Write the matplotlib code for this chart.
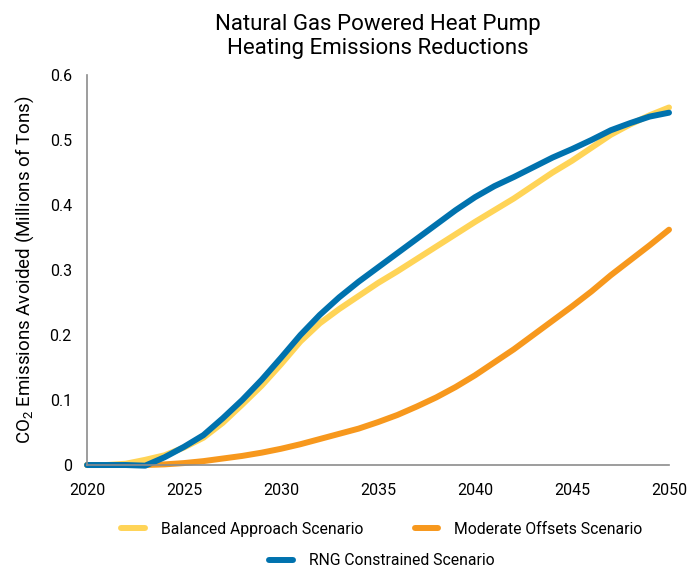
import numpy as np
import matplotlib.pyplot as plt
from matplotlib.lines import Line2D

plt.rcParams['font.family'] = ['Roboto', 'DejaVu Sans']
plt.rcParams['mathtext.default'] = 'regular'

# Data
years = list(range(2020, 2051))
balanced = [0, 0, 0.002, 0.008, 0.015, 0.027, 0.042, 0.065, 0.093, 0.122,
            0.155, 0.19, 0.218, 0.24, 0.26, 0.28, 0.298, 0.317, 0.336, 0.355,
            0.374, 0.392, 0.41, 0.43, 0.45, 0.468, 0.488, 0.508, 0.524, 0.538, 0.55]
moderate = [0, 0, 0, 0, 0.001, 0.003, 0.006, 0.01, 0.014, 0.019,
            0.025, 0.032, 0.04, 0.048, 0.056, 0.066, 0.077, 0.09, 0.104, 0.12,
            0.138, 0.158, 0.178, 0.2, 0.222, 0.244, 0.267, 0.292, 0.315, 0.338, 0.362]
rng = [0, 0, 0, -0.001, 0.012, 0.028, 0.046, 0.072, 0.1, 0.131,
       0.165, 0.2, 0.231, 0.258, 0.282, 0.304, 0.326, 0.348, 0.37, 0.392,
       0.412, 0.429, 0.443, 0.458, 0.473, 0.486, 0.5, 0.515, 0.526, 0.536, 0.542]

c_bal = '#FFD457'
c_mod = '#F7981D'
c_rng = '#0072AE'

fig = plt.figure(figsize=(6.88, 5.71), dpi=100)
ax = fig.add_axes([0.1265, 0.1856, 0.8459, 0.6831])

lw = 4.3
for vals, col in [(moderate, c_mod), (balanced, c_bal), (rng, c_rng)]:
    ax.plot(years, vals, color=col, lw=lw, solid_capstyle='round',
            solid_joinstyle='round', clip_on=False)

ax.set_xlim(2020, 2050)
ax.set_ylim(0, 0.6)
ax.set_xticks(range(2020, 2051, 5))
ax.set_yticks(np.arange(0, 0.61, 0.1))
ax.set_yticklabels(['0', '0.1', '0.2', '0.3', '0.4', '0.5', '0.6'])
ax.tick_params(length=0, labelsize=11.5)
ax.tick_params(axis='x', pad=13)
ax.tick_params(axis='y', pad=11)

for s in ['top', 'right']:
    ax.spines[s].set_visible(False)
for s in ['left', 'bottom']:
    ax.spines[s].set_color('#8c8c8c')
    ax.spines[s].set_linewidth(1.2)

ax.set_ylabel('CO$_2$ Emissions Avoided (Millions of Tons)', fontsize=13.5, labelpad=10)
fig.suptitle('Natural Gas Powered Heat Pump\nHeating Emissions Reductions',
             fontsize=16, x=0.549, y=0.975, linespacing=1.2)

h1 = [Line2D([], [], color=c_bal, lw=4.3, solid_capstyle='round'),
      Line2D([], [], color=c_mod, lw=4.3, solid_capstyle='round')]
fig.legend(h1, ['Balanced Approach Scenario', 'Moderate Offsets Scenario'],
           loc='center', bbox_to_anchor=(0.555, 0.073), ncol=2, frameon=False,
           fontsize=11.3, handlelength=1.5, columnspacing=3.3, handletextpad=1.0)
h2 = [Line2D([], [], color=c_rng, lw=4.3, solid_capstyle='round')]
fig.legend(h2, ['RNG Constrained Scenario'], loc='center',
           bbox_to_anchor=(0.555, 0.018), frameon=False, fontsize=11.3,
           handlelength=1.5, handletextpad=1.0)

fig.savefig('out.png', dpi=100)
